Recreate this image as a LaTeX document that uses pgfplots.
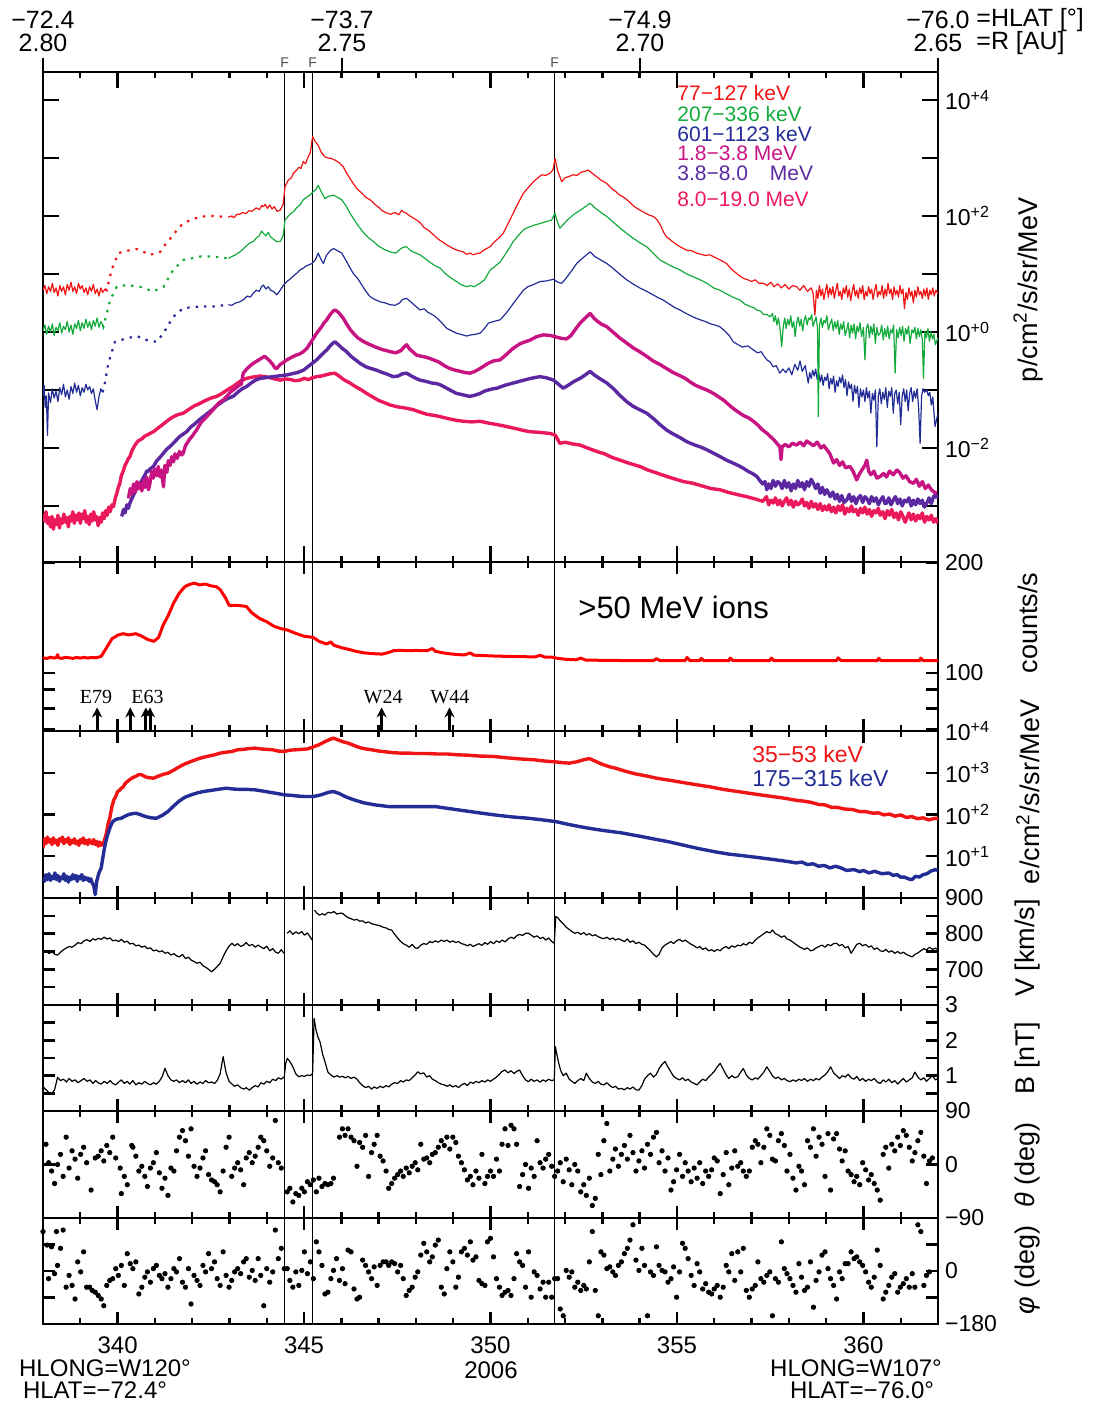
\documentclass[border=0pt]{standalone}
\usepackage{fontspec}
\setmainfont{Liberation Sans}
\newfontfamily\serifont{Liberation Serif}
\usepackage{pgfplots}
\pgfplotsset{compat=1.18}
\usetikzlibrary{arrows.meta}
\definecolor{cred}{RGB}{240,20,20}
\definecolor{cgreen}{RGB}{20,170,60}
\definecolor{cblue}{RGB}{35,45,150}
\definecolor{cmag}{RGB}{200,20,130}
\definecolor{cpur}{RGB}{90,40,160}
\definecolor{cpink}{RGB}{235,25,90}
\pgfplotsset{
  panel/.style={
    at={(21.5pt,#1)}, anchor=south west, width=447.5pt, scale only axis,
    xmin=338, xmax=362,
    xtick={340,345,350,355,360}, minor xtick={338,...,362},
    xticklabels={},
    tick align=inside, tick pos=both,
    major tick length=6pt, minor tick length=3pt,
    axis line style={line width=1.4pt},
    every tick/.style={black, line width=1.2pt},
    yticklabel pos=right,
    ticklabel style={font=\fontsize{11.5}{12}\selectfont},
    /pgf/number format/assume math mode=true,
    extra x ticks={344.48,345.23,351.72},
    extra x tick labels={},
    extra x tick style={grid=major, major tick length=0pt, major grid style={black, line width=0.5pt}},
  },
  thinl/.style={line width=0.6pt, line join=round},
  thickl/.style={line width=1.7pt, line join=round},
  dotl/.style={line width=1.1pt, dash pattern=on 1.2pt off 3pt},
}
\begin{document}
\begin{tikzpicture}
\useasboundingbox (0pt,0pt) rectangle (548.5pt,701.5pt);

% ---------------- Panel 1: protons ----------------
\begin{axis}[panel={420.5pt}, height=245pt, ymin=-3.966, ymax=4.483,
  major tick length=8pt,
  ytick={-3,-2,-1,0,1,2,3,4},
  yticklabels={,10\textsuperscript{−2},,10\textsuperscript{+0},,10\textsuperscript{+2},,10\textsuperscript{+4}}]
% 8.0-19.0 MeV
\addplot[thickl, cpink] coordinates {(338.00,-3.14)(338.04,-3.26)(338.08,-3.10)(338.12,-3.30)(338.16,-3.20)(338.20,-3.36)(338.24,-3.18)(338.28,-3.40)(338.32,-3.24)(338.36,-3.32)(338.40,-3.16)(338.44,-3.38)(338.48,-3.22)(338.52,-3.30)(338.56,-3.14)(338.60,-3.28)(338.64,-3.20)(338.68,-3.36)(338.72,-3.18)(338.76,-3.26)(338.80,-3.10)(338.84,-3.30)(338.88,-3.16)(338.92,-3.24)(338.96,-3.12)(339.00,-3.30)(339.04,-3.14)(339.08,-3.22)(339.12,-3.08)(339.16,-3.28)(339.20,-3.18)(339.24,-3.32)(339.28,-3.14)(339.32,-3.26)(339.36,-3.10)(339.40,-3.24)(339.44,-3.18)(339.48,-3.34)(339.52,-3.20)(339.56,-3.28)(339.60,-3.12)(339.64,-3.22)(339.68,-3.08)(339.72,-3.16)(339.76,-3.02)(339.80,-3.10)(339.85,-2.98)(339.89,-3.01)(339.94,-2.86)(339.98,-2.78)(340.02,-2.68)(340.06,-2.61)(340.10,-2.48)(340.15,-2.40)(340.20,-2.30)(340.25,-2.24)(340.29,-2.18)(340.33,-2.15)(340.38,-2.06)(340.44,-1.98)(340.50,-1.92)(340.55,-1.88)(340.60,-1.86)(340.66,-1.84)(340.72,-1.80)(340.78,-1.78)(340.84,-1.76)(340.90,-1.74)(340.96,-1.72)(341.04,-1.68)(341.12,-1.64)(341.20,-1.60)(341.26,-1.57)(341.32,-1.54)(341.40,-1.50)(341.50,-1.46)(341.60,-1.43)(341.76,-1.40)(341.90,-1.34)(342.04,-1.28)(342.21,-1.23)(342.36,-1.18)(342.50,-1.14)(342.66,-1.11)(342.80,-1.06)(342.96,-0.99)(343.10,-0.94)(343.22,-0.88)(343.34,-0.83)(343.46,-0.80)(343.60,-0.78)(343.72,-0.77)(343.82,-0.76)(343.96,-0.77)(344.10,-0.79)(344.22,-0.81)(344.36,-0.83)(344.50,-0.81)(344.64,-0.82)(344.76,-0.84)(344.89,-0.83)(345.00,-0.80)(345.12,-0.82)(345.22,-0.79)(345.34,-0.77)(345.46,-0.76)(345.58,-0.74)(345.70,-0.72)(345.83,-0.71)(345.94,-0.76)(346.06,-0.82)(346.23,-0.88)(346.40,-0.95)(346.54,-1.00)(346.68,-1.06)(346.84,-1.12)(347.00,-1.18)(347.16,-1.22)(347.31,-1.26)(347.50,-1.29)(347.70,-1.31)(347.93,-1.34)(348.10,-1.38)(348.30,-1.42)(348.50,-1.44)(348.65,-1.46)(348.84,-1.49)(349.05,-1.52)(349.27,-1.54)(349.50,-1.55)(349.72,-1.54)(349.94,-1.57)(350.20,-1.60)(350.43,-1.63)(350.70,-1.67)(350.90,-1.70)(351.06,-1.72)(351.30,-1.73)(351.60,-1.75)(351.74,-1.78)(351.86,-1.92)(352.00,-1.90)(352.20,-1.93)(352.40,-1.95)(352.60,-2.00)(352.85,-2.06)(353.05,-2.10)(353.25,-2.16)(353.47,-2.21)(353.70,-2.26)(354.01,-2.32)(354.22,-2.38)(354.45,-2.43)(354.72,-2.49)(354.92,-2.53)(355.18,-2.58)(355.44,-2.61)(355.70,-2.66)(355.92,-2.70)(356.15,-2.72)(356.40,-2.77)(356.60,-2.80)(356.87,-2.84)(357.10,-2.88)(357.30,-2.92)(357.40,-2.84)(357.46,-2.98)(357.52,-2.90)(357.58,-2.95)(357.64,-2.86)(357.70,-2.98)(357.76,-2.90)(357.82,-3.00)(357.88,-2.92)(357.94,-2.86)(358.00,-2.98)(358.06,-2.90)(358.12,-3.02)(358.18,-2.92)(358.24,-2.98)(358.30,-2.95)(358.36,-2.88)(358.42,-3.00)(358.48,-2.94)(358.54,-3.04)(358.60,-2.92)(358.66,-3.02)(358.72,-2.96)(358.78,-3.06)(358.84,-2.96)(358.90,-3.08)(358.96,-3.00)(359.02,-3.07)(359.08,-2.98)(359.14,-3.10)(359.20,-3.02)(359.26,-3.12)(359.32,-3.00)(359.38,-3.08)(359.44,-2.98)(359.50,-3.14)(359.56,-3.04)(359.62,-3.10)(359.68,-3.00)(359.73,-3.10)(359.80,-3.06)(359.86,-3.16)(359.92,-3.04)(359.98,-3.12)(360.04,-3.02)(360.10,-3.14)(360.16,-3.06)(360.22,-3.18)(360.28,-3.08)(360.34,-3.12)(360.40,-3.04)(360.45,-3.16)(360.52,-3.10)(360.58,-3.22)(360.64,-3.08)(360.70,-3.16)(360.76,-3.06)(360.82,-3.20)(360.88,-3.12)(360.94,-3.24)(361.00,-3.10)(361.06,-3.18)(361.12,-3.28)(361.16,-3.21)(361.22,-3.12)(361.28,-3.24)(361.34,-3.14)(361.40,-3.26)(361.46,-3.16)(361.52,-3.22)(361.58,-3.12)(361.64,-3.28)(361.70,-3.18)(361.76,-3.24)(361.82,-3.16)(361.88,-3.28)(361.94,-3.22)(362.00,-3.30)};
% 3.8-8.0 MeV
\addplot[thickl, cpur] coordinates {(340.11,-3.18)(340.16,-3.06)(340.20,-3.12)(340.25,-2.98)(340.29,-3.04)(340.33,-2.95)(340.38,-2.88)(340.42,-2.82)(340.47,-2.76)(340.51,-2.70)(340.56,-2.66)(340.60,-2.61)(340.65,-2.56)(340.70,-2.50)(340.74,-2.46)(340.78,-2.40)(340.83,-2.40)(340.87,-2.36)(340.92,-2.34)(340.96,-2.32)(341.05,-2.22)(341.14,-2.16)(341.23,-2.09)(341.32,-2.02)(341.40,-1.98)(341.49,-1.92)(341.58,-1.86)(341.67,-1.80)(341.76,-1.76)(341.85,-1.72)(341.96,-1.64)(342.08,-1.58)(342.18,-1.52)(342.30,-1.46)(342.42,-1.40)(342.54,-1.34)(342.64,-1.28)(342.75,-1.23)(342.86,-1.18)(342.98,-1.14)(343.10,-1.11)(343.22,-1.04)(343.34,-0.98)(343.46,-0.94)(343.58,-0.88)(343.70,-0.83)(343.82,-0.80)(343.94,-0.79)(344.06,-0.78)(344.18,-0.77)(344.30,-0.76)(344.42,-0.75)(344.54,-0.74)(344.68,-0.72)(344.82,-0.70)(344.98,-0.66)(345.10,-0.60)(345.22,-0.54)(345.34,-0.48)(345.46,-0.40)(345.54,-0.35)(345.61,-0.31)(345.70,-0.24)(345.78,-0.19)(345.83,-0.17)(345.92,-0.22)(346.02,-0.28)(346.14,-0.34)(346.26,-0.42)(346.38,-0.48)(346.50,-0.54)(346.66,-0.60)(346.80,-0.63)(346.95,-0.66)(347.10,-0.70)(347.24,-0.73)(347.39,-0.77)(347.52,-0.76)(347.64,-0.72)(347.75,-0.71)(347.88,-0.76)(348.00,-0.80)(348.11,-0.83)(348.26,-0.85)(348.42,-0.88)(348.56,-0.89)(348.65,-0.91)(348.80,-0.96)(348.94,-1.01)(349.09,-1.06)(349.24,-1.08)(349.36,-1.10)(349.45,-1.11)(349.58,-1.09)(349.72,-1.06)(349.84,-1.02)(349.94,-1.00)(350.06,-0.98)(350.17,-0.97)(350.38,-0.92)(350.61,-0.88)(350.84,-0.84)(351.08,-0.80)(351.33,-0.77)(351.50,-0.79)(351.69,-0.83)(351.82,-0.90)(351.95,-0.97)(352.08,-0.92)(352.22,-0.86)(352.40,-0.80)(352.54,-0.74)(352.67,-0.68)(352.78,-0.74)(352.92,-0.80)(353.12,-0.88)(353.30,-0.98)(353.48,-1.10)(353.65,-1.20)(353.82,-1.28)(354.00,-1.34)(354.19,-1.40)(354.38,-1.50)(354.55,-1.60)(354.72,-1.69)(354.90,-1.76)(355.08,-1.82)(355.26,-1.89)(355.44,-1.94)(355.62,-1.98)(355.80,-2.03)(355.98,-2.09)(356.16,-2.15)(356.33,-2.21)(356.50,-2.26)(356.64,-2.30)(356.78,-2.35)(356.90,-2.40)(357.02,-2.44)(357.14,-2.49)(357.22,-2.56)(357.30,-2.62)(357.36,-2.58)(357.41,-2.72)(357.46,-2.62)(357.52,-2.70)(357.58,-2.56)(357.64,-2.66)(357.70,-2.58)(357.76,-2.61)(357.82,-2.70)(357.88,-2.56)(357.94,-2.68)(358.00,-2.60)(358.06,-2.74)(358.12,-2.62)(358.18,-2.70)(358.24,-2.56)(358.30,-2.67)(358.36,-2.60)(358.42,-2.72)(358.48,-2.58)(358.54,-2.66)(358.60,-2.54)(358.66,-2.61)(358.72,-2.70)(358.78,-2.62)(358.84,-2.78)(358.90,-2.68)(358.96,-2.80)(359.02,-2.72)(359.11,-2.84)(359.18,-2.76)(359.24,-2.88)(359.30,-2.80)(359.36,-2.92)(359.42,-2.82)(359.48,-2.94)(359.55,-2.90)(359.62,-2.80)(359.68,-2.92)(359.74,-2.84)(359.80,-2.96)(359.86,-2.86)(359.92,-2.82)(359.98,-2.94)(360.04,-2.84)(360.09,-2.87)(360.16,-2.96)(360.22,-2.84)(360.28,-2.92)(360.34,-2.86)(360.40,-2.98)(360.46,-2.90)(360.52,-2.84)(360.58,-2.96)(360.62,-2.95)(360.68,-2.86)(360.74,-2.98)(360.80,-2.90)(360.86,-2.84)(360.92,-2.96)(360.98,-2.88)(361.04,-3.00)(361.10,-2.90)(361.16,-2.93)(361.22,-2.86)(361.28,-3.00)(361.34,-2.90)(361.40,-2.98)(361.46,-2.88)(361.52,-2.96)(361.58,-2.90)(361.64,-3.02)(361.70,-2.95)(361.76,-2.86)(361.82,-2.96)(361.88,-2.84)(361.94,-2.80)(361.97,-2.87)};
% 1.8-3.8 MeV
\addplot[thickl, cmag] coordinates {(340.29,-2.87)(340.34,-2.70)(340.38,-2.80)(340.43,-2.62)(340.47,-2.76)(340.52,-2.58)(340.56,-2.70)(340.60,-2.61)(340.65,-2.74)(340.70,-2.56)(340.74,-2.68)(340.78,-2.50)(340.83,-2.72)(340.87,-2.60)(340.92,-2.40)(340.96,-2.52)(341.00,-2.36)(341.05,-2.48)(341.09,-2.32)(341.14,-2.50)(341.18,-2.38)(341.23,-2.67)(341.27,-2.30)(341.32,-2.42)(341.36,-2.22)(341.41,-2.30)(341.45,-2.15)(341.50,-2.24)(341.54,-2.10)(341.60,-2.18)(341.66,-2.06)(341.72,-2.12)(341.76,-2.09)(341.82,-1.96)(341.88,-1.90)(341.94,-1.84)(342.00,-1.80)(342.06,-1.74)(342.12,-1.69)(342.18,-1.62)(342.24,-1.56)(342.30,-1.52)(342.36,-1.48)(342.42,-1.44)(342.48,-1.40)(342.56,-1.34)(342.64,-1.28)(342.72,-1.22)(342.84,-1.17)(342.94,-1.10)(343.02,-1.04)(343.10,-1.00)(343.18,-0.96)(343.26,-0.92)(343.32,-0.90)(343.37,-0.71)(343.46,-0.64)(343.56,-0.58)(343.64,-0.54)(343.74,-0.50)(343.84,-0.46)(343.94,-0.42)(344.00,-0.45)(344.08,-0.50)(344.16,-0.56)(344.22,-0.62)(344.27,-0.63)(344.36,-0.56)(344.46,-0.52)(344.54,-0.48)(344.66,-0.44)(344.78,-0.40)(344.88,-0.38)(344.98,-0.34)(345.08,-0.28)(345.18,-0.18)(345.26,-0.10)(345.34,-0.02)(345.46,0.08)(345.54,0.16)(345.61,0.21)(345.70,0.30)(345.78,0.36)(345.83,0.38)(345.92,0.34)(346.05,0.24)(346.14,0.14)(346.24,0.04)(346.32,-0.02)(346.44,-0.10)(346.58,-0.16)(346.77,-0.22)(346.92,-0.26)(347.08,-0.30)(347.20,-0.32)(347.31,-0.34)(347.46,-0.36)(347.60,-0.32)(347.68,-0.26)(347.75,-0.22)(347.84,-0.30)(348.02,-0.40)(348.16,-0.42)(348.30,-0.44)(348.47,-0.48)(348.62,-0.52)(348.76,-0.58)(348.91,-0.63)(349.06,-0.66)(349.20,-0.68)(349.32,-0.70)(349.45,-0.71)(349.58,-0.68)(349.72,-0.63)(349.84,-0.58)(349.94,-0.54)(350.08,-0.50)(350.26,-0.48)(350.44,-0.38)(350.61,-0.28)(350.80,-0.20)(351.06,-0.14)(351.24,-0.08)(351.42,-0.05)(351.60,-0.06)(351.78,-0.09)(351.90,-0.11)(352.04,-0.12)(352.16,-0.06)(352.28,0.05)(352.40,0.15)(352.54,0.24)(352.67,0.32)(352.80,0.22)(352.96,0.14)(353.12,0.09)(353.28,0.00)(353.46,-0.10)(353.65,-0.19)(353.84,-0.28)(354.00,-0.34)(354.19,-0.42)(354.36,-0.50)(354.54,-0.56)(354.72,-0.63)(354.90,-0.70)(355.10,-0.76)(355.22,-0.80)(355.35,-0.86)(355.50,-0.92)(355.64,-0.96)(355.80,-1.00)(355.98,-1.06)(356.12,-1.12)(356.26,-1.18)(356.40,-1.26)(356.51,-1.32)(356.64,-1.38)(356.78,-1.44)(356.92,-1.48)(357.05,-1.54)(357.16,-1.60)(357.28,-1.68)(357.40,-1.74)(357.50,-1.80)(357.60,-1.86)(357.68,-1.92)(357.76,-1.98)(357.79,-2.20)(357.82,-1.98)(357.90,-1.94)(358.00,-1.98)(358.10,-1.92)(358.21,-1.95)(358.30,-1.90)(358.40,-1.96)(358.48,-1.88)(358.57,-1.92)(358.66,-1.96)(358.76,-1.90)(358.86,-2.00)(358.94,-1.96)(359.02,-2.03)(359.10,-2.10)(359.20,-2.26)(359.28,-2.20)(359.36,-2.30)(359.44,-2.24)(359.52,-2.34)(359.64,-2.32)(359.72,-2.40)(359.82,-2.55)(359.90,-2.44)(359.98,-2.36)(360.04,-2.30)(360.09,-2.21)(360.14,-2.40)(360.20,-2.46)(360.28,-2.40)(360.36,-2.52)(360.45,-2.49)(360.54,-2.44)(360.62,-2.50)(360.70,-2.40)(360.80,-2.46)(360.90,-2.38)(360.98,-2.43)(361.06,-2.52)(361.14,-2.48)(361.24,-2.58)(361.34,-2.61)(361.42,-2.54)(361.50,-2.66)(361.58,-2.58)(361.66,-2.70)(361.74,-2.64)(361.82,-2.72)(361.90,-2.76)(361.97,-2.78)};
% 601-1123 keV
\addplot[thinl, cblue] coordinates {(338.00,-1.10)(338.03,-0.92)(338.06,-1.30)(338.09,-1.10)(338.12,-1.78)(338.15,-1.05)(338.20,-1.22)(338.25,-0.98)(338.30,-1.14)(338.35,-1.02)(338.40,-1.20)(338.45,-0.96)(338.50,-1.08)(338.55,-0.90)(338.60,-1.12)(338.65,-1.00)(338.70,-1.16)(338.75,-0.94)(338.80,-1.06)(338.85,-0.88)(338.90,-1.04)(338.95,-0.92)(339.00,-1.10)(339.05,-0.96)(339.10,-1.04)(339.15,-0.90)(339.20,-1.00)(339.25,-0.94)(339.30,-1.06)(339.35,-0.98)(339.40,-1.18)(339.45,-1.34)(339.50,-1.12)(339.55,-0.98)(339.60,-1.04)};
\addplot[dotl, cblue] coordinates {(339.60,-1.04)(339.66,-0.88)(339.75,-0.54)(339.93,-0.17)(340.24,-0.11)(340.51,-0.07)(340.78,-0.14)(341.05,-0.17)(341.23,-0.02)(341.49,0.26)(341.76,0.41)(342.21,0.44)(342.57,0.44)(342.97,0.47)};
\addplot[thinl, cblue] coordinates {(342.97,0.47)(343.06,0.46)(343.16,0.50)(343.28,0.52)(343.38,0.56)(343.48,0.62)(343.56,0.60)(343.64,0.67)(343.72,0.72)(343.80,0.70)(343.86,0.78)(343.91,0.81)(343.98,0.74)(344.04,0.78)(344.10,0.72)(344.18,0.70)(344.27,0.64)(344.36,0.72)(344.44,0.80)(344.54,0.87)(344.64,0.92)(344.74,0.98)(344.82,1.02)(344.89,1.07)(344.98,1.10)(345.06,1.14)(345.14,1.16)(345.21,1.18)(345.30,1.24)(345.38,1.36)(345.45,1.26)(345.52,1.18)(345.60,1.32)(345.70,1.40)(345.79,1.44)(345.90,1.40)(346.01,1.36)(346.12,1.24)(346.22,1.12)(346.32,1.01)(346.44,0.92)(346.56,0.80)(346.66,0.70)(346.77,0.61)(346.90,0.56)(347.04,0.52)(347.18,0.50)(347.31,0.47)(347.44,0.46)(347.56,0.50)(347.64,0.56)(347.75,0.58)(347.86,0.52)(348.00,0.44)(348.11,0.38)(348.22,0.40)(348.32,0.34)(348.47,0.29)(348.60,0.22)(348.72,0.14)(348.83,0.06)(348.96,0.02)(349.08,-0.02)(349.20,-0.04)(349.36,-0.07)(349.48,-0.05)(349.60,-0.04)(349.72,-0.02)(349.84,0.06)(349.94,0.15)(350.08,0.18)(350.26,0.21)(350.44,0.34)(350.61,0.49)(350.74,0.60)(350.88,0.72)(351.00,0.78)(351.16,0.82)(351.33,0.87)(351.50,0.88)(351.69,0.91)(351.80,0.86)(351.91,0.84)(352.02,0.92)(352.16,1.04)(352.31,1.18)(352.48,1.28)(352.67,1.38)(352.80,1.30)(352.96,1.24)(353.12,1.18)(353.28,1.10)(353.46,1.00)(353.65,0.90)(353.84,0.82)(354.00,0.76)(354.19,0.70)(354.36,0.64)(354.50,0.59)(354.63,0.55)(354.80,0.48)(354.94,0.42)(355.08,0.38)(355.24,0.32)(355.40,0.27)(355.50,0.24)(355.62,0.21)(355.76,0.18)(355.90,0.14)(356.02,0.12)(356.15,0.09)(356.28,0.02)(356.40,-0.06)(356.51,-0.17)(356.64,-0.22)(356.76,-0.26)(356.90,-0.24)(357.05,-0.31)(357.16,-0.36)(357.26,-0.34)(357.34,-0.42)(357.41,-0.48)(357.50,-0.52)(357.58,-0.60)(357.66,-0.58)(357.76,-0.71)(357.84,-0.64)(357.92,-0.70)(358.00,-0.62)(358.08,-0.74)(358.16,-0.56)(358.24,-0.66)(358.30,-0.50)(358.36,-0.68)(358.44,-0.58)(358.52,-0.88)(358.56,-0.70)(358.60,-0.80)(358.64,-0.66)(358.68,-0.76)(358.72,-0.64)(358.76,-0.82)(358.80,-0.70)(358.84,-0.86)(358.88,-0.74)(358.92,-0.92)(358.96,-0.78)(359.00,-0.84)(359.04,-0.72)(359.08,-0.98)(359.12,-0.80)(359.16,-0.90)(359.20,-0.76)(359.24,-1.04)(359.28,-0.84)(359.32,-0.94)(359.36,-0.78)(359.40,-0.88)(359.44,-0.74)(359.48,-0.96)(359.52,-0.82)(359.56,-1.10)(359.60,-0.86)(359.64,-0.98)(359.68,-0.90)(359.72,-1.20)(359.76,-0.92)(359.80,-1.06)(359.84,-0.94)(359.88,-1.30)(359.92,-0.98)(359.96,-1.12)(360.00,-1.00)(360.04,-1.20)(360.08,-0.96)(360.12,-1.14)(360.16,-1.02)(360.20,-1.40)(360.24,-1.06)(360.28,-1.18)(360.32,-1.00)(360.36,-1.98)(360.40,-1.10)(360.44,-0.98)(360.48,-1.24)(360.52,-1.04)(360.56,-1.16)(360.60,-0.96)(360.64,-1.30)(360.68,-1.02)(360.72,-1.11)(360.76,-0.96)(360.80,-1.40)(360.84,-1.06)(360.88,-1.00)(360.92,-1.24)(360.96,-1.04)(361.00,-1.60)(361.04,-1.10)(361.08,-0.98)(361.12,-1.20)(361.16,-1.00)(361.20,-1.36)(361.24,-1.06)(361.28,-0.96)(361.32,-1.20)(361.36,-1.02)(361.40,-1.14)(361.44,-0.98)(361.48,-1.30)(361.52,-1.92)(361.56,-1.10)(361.60,-0.98)(361.64,-1.04)(361.70,-1.00)(361.74,-1.10)(361.78,-1.04)(361.82,-1.26)(361.86,-1.12)(361.92,-1.63)(362.00,-1.40)};
% 207-336 keV
\addplot[thinl, cgreen] coordinates {(338.00,0.02)(338.05,0.12)(338.10,-0.04)(338.15,0.10)(338.20,0.00)(338.25,0.14)(338.30,-0.06)(338.35,0.08)(338.40,0.02)(338.45,0.16)(338.50,-0.02)(338.55,0.10)(338.60,0.04)(338.65,0.18)(338.70,0.00)(338.75,0.12)(338.80,-0.04)(338.85,0.14)(338.90,0.06)(338.95,0.20)(339.00,0.02)(339.05,0.16)(339.10,0.06)(339.15,0.22)(339.20,0.08)(339.25,0.18)(339.30,0.04)(339.35,0.20)(339.40,0.10)(339.45,0.24)(339.50,0.08)(339.55,0.18)(339.60,0.12)};
\addplot[dotl, cgreen] coordinates {(339.60,0.12)(339.62,0.09)(339.80,0.55)(339.98,0.78)(340.24,0.81)(340.60,0.78)(340.96,0.70)(341.23,0.78)(341.49,1.07)(341.76,1.24)(342.21,1.30)(342.57,1.30)(342.97,1.27)};
\addplot[thinl, cgreen] coordinates {(342.97,1.27)(343.06,1.30)(343.16,1.33)(343.28,1.38)(343.38,1.44)(343.48,1.50)(343.56,1.54)(343.64,1.56)(343.72,1.62)(343.80,1.66)(343.86,1.74)(343.91,1.70)(343.98,1.66)(344.04,1.72)(344.10,1.64)(344.18,1.60)(344.26,1.56)(344.36,1.56)(344.44,1.66)(344.49,1.93)(344.58,2.00)(344.66,2.05)(344.71,2.07)(344.80,2.14)(344.90,2.20)(344.98,2.28)(345.06,2.32)(345.16,2.36)(345.25,2.42)(345.32,2.46)(345.38,2.53)(345.46,2.42)(345.56,2.30)(345.66,2.34)(345.79,2.36)(345.90,2.32)(346.01,2.28)(346.12,2.18)(346.24,2.04)(346.41,1.87)(346.56,1.74)(346.70,1.64)(346.86,1.56)(347.00,1.48)(347.16,1.42)(347.31,1.38)(347.46,1.36)(347.60,1.44)(347.66,1.46)(347.75,1.47)(347.86,1.40)(348.00,1.36)(348.11,1.33)(348.26,1.26)(348.40,1.19)(348.52,1.14)(348.65,1.10)(348.80,1.00)(348.94,0.93)(349.09,0.87)(349.20,0.82)(349.36,0.78)(349.46,0.80)(349.56,0.78)(349.72,0.84)(349.84,0.90)(349.99,1.07)(350.10,1.12)(350.26,1.21)(350.44,1.38)(350.61,1.56)(350.74,1.66)(350.88,1.76)(351.00,1.80)(351.16,1.84)(351.33,1.87)(351.48,1.90)(351.64,1.93)(351.73,2.05)(351.79,1.90)(351.86,1.79)(351.96,1.86)(352.08,1.94)(352.22,2.02)(352.36,2.08)(352.50,2.14)(352.67,2.22)(352.80,2.14)(352.96,2.06)(353.12,1.99)(353.28,1.90)(353.46,1.80)(353.65,1.70)(353.82,1.62)(354.00,1.54)(354.19,1.47)(354.36,1.36)(354.55,1.24)(354.72,1.18)(354.90,1.12)(355.08,1.07)(355.26,1.00)(355.44,0.95)(355.62,0.90)(355.80,0.84)(355.98,0.76)(356.15,0.72)(356.32,0.66)(356.50,0.60)(356.69,0.55)(356.82,0.48)(356.96,0.44)(357.06,0.42)(357.14,0.38)(357.24,0.36)(357.32,0.30)(357.42,0.30)(357.50,0.26)(357.56,0.32)(357.60,0.18)(357.64,0.28)(357.68,0.12)(357.72,0.24)(357.76,0.08)(357.81,-0.25)(357.85,0.10)(357.89,0.24)(357.93,0.06)(357.97,0.22)(358.01,0.12)(358.05,0.28)(358.09,0.08)(358.13,0.18)(358.17,-0.08)(358.21,0.15)(358.25,0.26)(358.29,0.10)(358.33,0.22)(358.37,0.02)(358.41,0.20)(358.45,0.28)(358.49,0.12)(358.53,0.24)(358.57,0.21)(358.61,0.30)(358.65,0.10)(358.69,0.18)(358.73,0.26)(358.77,0.06)(358.79,-1.46)(358.82,0.10)(358.86,0.24)(358.90,0.08)(358.94,0.20)(358.98,0.16)(359.02,0.28)(359.06,0.04)(359.11,0.15)(359.15,0.22)(359.19,0.02)(359.23,0.18)(359.27,0.06)(359.31,0.20)(359.35,-0.04)(359.39,0.14)(359.43,0.04)(359.47,0.18)(359.51,-0.06)(359.55,0.03)(359.59,0.16)(359.63,-0.10)(359.67,0.12)(359.71,-0.02)(359.75,0.14)(359.79,-0.12)(359.83,0.10)(359.87,0.00)(359.91,0.16)(359.95,-0.08)(360.00,0.08)(360.04,-0.48)(360.08,0.06)(360.12,0.14)(360.16,-0.10)(360.20,0.10)(360.24,-0.04)(360.28,0.14)(360.32,-0.20)(360.36,0.08)(360.40,-0.06)(360.45,-0.02)(360.49,0.12)(360.53,-0.14)(360.57,0.06)(360.61,-0.08)(360.65,0.10)(360.69,-0.12)(360.73,0.04)(360.77,-0.02)(360.81,0.12)(360.85,-0.71)(360.89,0.04)(360.93,-0.10)(360.97,0.08)(361.01,-0.06)(361.05,0.10)(361.09,-0.16)(361.13,0.06)(361.17,-0.04)(361.21,0.10)(361.25,-0.20)(361.30,0.04)(361.34,-0.02)(361.38,0.08)(361.42,-0.12)(361.46,0.06)(361.50,-0.08)(361.54,0.04)(361.58,-0.14)(361.61,-0.80)(361.65,0.02)(361.69,-0.10)(361.73,0.06)(361.77,-0.16)(361.81,0.00)(361.85,-0.12)(361.89,-0.04)(361.93,-0.22)(362.00,-0.10)};
% 77-127 keV
\addplot[thinl, cred] coordinates {(338.00,0.72)(338.05,0.80)(338.10,0.66)(338.15,0.78)(338.20,0.70)(338.25,0.84)(338.30,0.68)(338.35,0.76)(338.40,0.62)(338.45,0.80)(338.50,0.70)(338.55,0.78)(338.60,0.64)(338.65,0.82)(338.70,0.72)(338.75,0.86)(338.80,0.70)(338.85,0.78)(338.90,0.66)(338.95,0.84)(339.00,0.74)(339.05,0.80)(339.10,0.68)(339.15,0.76)(339.20,0.64)(339.25,0.78)(339.30,0.70)(339.35,0.82)(339.40,0.66)(339.45,0.74)(339.50,0.62)(339.55,0.76)(339.60,0.68)(339.66,0.74)};
\addplot[dotl, cred] coordinates {(339.66,0.74)(339.71,0.72)(339.84,1.07)(340.02,1.36)(340.25,1.40)(340.51,1.43)(340.70,1.38)(340.87,1.33)(341.14,1.38)(341.27,1.50)(341.45,1.64)(341.67,1.82)(341.85,1.90)(342.21,1.99)(342.57,2.00)(342.97,1.98)};
\addplot[thinl, cred] coordinates {(342.97,1.98)(343.05,2.00)(343.12,1.97)(343.20,2.03)(343.28,2.03)(343.36,2.06)(343.44,2.04)(343.52,2.09)(343.60,2.08)(343.64,2.10)(343.72,2.14)(343.80,2.11)(343.87,2.18)(343.91,2.16)(343.96,2.20)(344.02,2.13)(344.08,2.19)(344.14,2.12)(344.20,2.16)(344.28,2.08)(344.36,2.10)(344.44,2.20)(344.49,2.51)(344.58,2.62)(344.66,2.66)(344.72,2.74)(344.80,2.79)(344.86,2.84)(344.92,2.82)(344.98,2.94)(345.04,2.90)(345.11,3.02)(345.17,3.10)(345.23,3.37)(345.30,3.28)(345.38,3.22)(345.46,3.10)(345.56,3.02)(345.64,3.00)(345.74,2.99)(345.84,2.96)(345.96,2.91)(346.05,2.85)(346.14,2.74)(346.22,2.66)(346.32,2.56)(346.42,2.47)(346.54,2.40)(346.66,2.32)(346.77,2.28)(346.90,2.20)(347.02,2.14)(347.12,2.08)(347.22,2.05)(347.32,2.03)(347.44,2.06)(347.54,2.02)(347.62,2.10)(347.66,2.07)(347.74,2.05)(347.84,2.00)(347.94,1.96)(348.02,1.93)(348.12,1.88)(348.22,1.80)(348.30,1.77)(348.38,1.73)(348.50,1.66)(348.60,1.60)(348.72,1.55)(348.83,1.50)(348.94,1.46)(349.06,1.42)(349.16,1.40)(349.27,1.38)(349.36,1.34)(349.46,1.36)(349.54,1.33)(349.62,1.35)(349.72,1.36)(349.84,1.42)(349.99,1.47)(350.10,1.55)(350.22,1.62)(350.34,1.70)(350.48,1.88)(350.61,2.05)(350.74,2.22)(350.88,2.39)(351.00,2.48)(351.15,2.59)(351.26,2.65)(351.37,2.71)(351.48,2.70)(351.60,2.74)(351.68,2.80)(351.73,2.99)(351.80,2.78)(351.91,2.59)(352.00,2.66)(352.10,2.68)(352.22,2.71)(352.32,2.70)(352.42,2.75)(352.52,2.77)(352.62,2.79)(352.72,2.74)(352.84,2.68)(352.96,2.62)(353.12,2.56)(353.24,2.48)(353.36,2.42)(353.46,2.36)(353.56,2.33)(353.66,2.28)(353.76,2.22)(353.86,2.16)(354.01,2.10)(354.12,2.06)(354.24,2.02)(354.37,1.99)(354.46,1.94)(354.56,1.84)(354.64,1.72)(354.72,1.64)(354.84,1.58)(354.96,1.52)(355.08,1.47)(355.20,1.43)(355.26,1.41)(355.40,1.40)(355.52,1.36)(355.64,1.34)(355.76,1.32)(355.88,1.33)(355.98,1.30)(356.10,1.26)(356.22,1.22)(356.33,1.18)(356.44,1.10)(356.52,1.05)(356.60,1.01)(356.70,0.96)(356.80,0.92)(356.90,0.90)(357.00,0.87)(357.10,0.90)(357.20,0.84)(357.32,0.84)(357.42,0.80)(357.52,0.86)(357.60,0.78)(357.70,0.83)(357.80,0.76)(357.90,0.82)(358.00,0.74)(358.10,0.80)(358.21,0.78)(358.30,0.72)(358.40,0.80)(358.50,0.70)(358.60,0.76)(358.65,0.67)(358.70,0.29)(358.74,0.72)(358.78,0.58)(358.82,0.80)(358.86,0.62)(358.90,0.74)(358.94,0.56)(358.98,0.70)(359.02,0.82)(359.06,0.60)(359.10,0.76)(359.14,0.64)(359.18,0.78)(359.22,0.58)(359.26,0.72)(359.30,0.84)(359.34,0.62)(359.38,0.70)(359.42,0.56)(359.46,0.76)(359.50,0.66)(359.54,0.80)(359.58,0.60)(359.62,0.74)(359.66,0.54)(359.70,0.70)(359.74,0.82)(359.78,0.62)(359.82,0.72)(359.86,0.58)(359.90,0.76)(359.94,0.66)(359.98,0.80)(360.02,0.56)(360.06,0.70)(360.10,0.62)(360.14,0.78)(360.18,0.66)(360.22,0.74)(360.26,0.56)(360.30,0.72)(360.34,0.82)(360.38,0.60)(360.42,0.70)(360.46,0.64)(360.50,0.80)(360.54,0.58)(360.58,0.74)(360.62,0.62)(360.66,0.84)(360.70,0.66)(360.74,0.74)(360.78,0.56)(360.82,0.78)(360.86,0.64)(360.90,0.72)(360.94,0.60)(360.98,0.80)(361.02,0.66)(361.06,0.74)(361.10,0.40)(361.14,0.68)(361.18,0.56)(361.22,0.76)(361.26,0.62)(361.30,0.70)(361.34,0.50)(361.38,0.72)(361.42,0.60)(361.46,0.78)(361.50,0.64)(361.54,0.70)(361.58,0.58)(361.62,0.74)(361.66,0.62)(361.70,0.76)(361.74,0.56)(361.78,0.72)(361.82,0.64)(361.86,0.76)(361.90,0.62)(361.94,0.72)(362.00,0.66)};
\end{axis}

% ---------------- Panel 2: >50 MeV ions ----------------
\begin{axis}[panel={336pt}, height=84.5pt, ymode=log, ymin=69.4, ymax=201,
  ytick={70,80,90,100,200}, yticklabels={,,,100,200}]
\addplot[line width=1.5pt, red, line join=round] coordinates {(338.00,110)(338.10,109.5)(338.20,110.4)(338.30,109.8)(338.36,110.2)(338.39,112.2)(338.42,110)(338.50,109.6)(338.60,110.3)(338.70,110)(338.80,109.6)(338.90,110.2)(339.00,109.8)(339.10,110.3)(339.20,109.8)(339.30,110.2)(339.40,110)(339.50,110.5)(339.56,111)(339.70,117)(339.85,124)(340.02,127)(340.15,128)(340.30,127)(340.49,128)(340.65,126)(340.80,123.5)(340.97,122)(341.10,125)(341.22,135)(341.35,143)(341.50,155)(341.65,165)(341.80,172)(341.90,174)(342.05,176)(342.20,174)(342.35,175)(342.50,173)(342.65,172)(342.75,169)(342.90,160)(342.99,153)(343.20,153)(343.45,152)(343.60,146)(343.80,141)(344.00,138)(344.20,134)(344.40,132)(344.55,131)(344.80,128)(345.00,126)(345.25,125)(345.40,122)(345.60,120)(345.72,121.5)(345.80,119)(346.03,117)(346.20,116)(346.40,114.5)(346.60,113.5)(346.80,113)(346.96,112.7)(347.10,112.6)(347.25,113.6)(347.40,115)(347.59,115.3)(347.80,115)(348.00,115.2)(348.30,115)(348.44,116.6)(348.52,114.6)(348.70,113.6)(348.90,112.8)(349.14,112.2)(349.30,112)(349.46,113.4)(349.55,111.8)(349.80,111.6)(350.00,111.3)(350.40,111)(350.80,110.8)(351.20,110.6)(351.33,111.8)(351.45,110.5)(351.64,110.5)(351.80,109.6)(352.00,109)(352.30,108.6)(352.42,109.8)(352.55,108.4)(352.89,108.3)(353.20,108.2)(353.60,108.1)(354.00,108)(354.37,108.1)(354.45,109.4)(354.55,108)(355.00,108.1)(355.22,108.1)(355.27,110.2)(355.35,108)(355.61,108)(355.65,109.6)(355.72,108)(356.00,108.1)(356.39,108)(356.43,109.8)(356.50,108.1)(357.00,108)(357.49,108.1)(357.53,109.8)(357.60,108)(358.00,108.1)(358.50,108)(359.00,108.1)(359.28,108)(359.32,110)(359.40,108.1)(359.80,108)(360.37,108)(360.41,109.6)(360.48,108)(361.00,108.1)(361.50,108)(361.54,109.8)(361.60,108)(362.00,108)};
\draw[-{Stealth[length=5pt,width=5pt]}, line width=1.5pt] (axis cs:339.45,69.4) -- (axis cs:339.45,80.5);
\draw[-{Stealth[length=5pt,width=5pt]}, line width=1.5pt] (axis cs:340.34,69.4) -- (axis cs:340.34,80.5);
\draw[-{Stealth[length=5pt,width=5pt]}, line width=1.5pt] (axis cs:340.76,69.4) -- (axis cs:340.76,80.5);
\draw[-{Stealth[length=5pt,width=5pt]}, line width=1.5pt] (axis cs:340.87,69.4) -- (axis cs:340.87,80.5);
\draw[-{Stealth[length=5pt,width=5pt]}, line width=1.5pt] (axis cs:347.08,69.4) -- (axis cs:347.08,80.5);
\draw[-{Stealth[length=5pt,width=5pt]}, line width=1.5pt] (axis cs:348.90,69.4) -- (axis cs:348.90,80.5);
\node[font=\serifont\fontsize{10}{10}\selectfont] at (axis cs:339.42,86) {E79};
\node[font=\serifont\fontsize{10}{10}\selectfont] at (axis cs:340.80,86) {E63};
\node[font=\serifont\fontsize{10}{10}\selectfont] at (axis cs:347.12,86) {W24};
\node[font=\serifont\fontsize{10}{10}\selectfont] at (axis cs:348.91,86) {W44};
\end{axis}

% ---------------- Panel 3: electrons ----------------
\begin{axis}[panel={252.5pt}, height=83.5pt, ymin=0, ymax=4,
  ytick={0,1,2,3,4},
  yticklabels={,10\textsuperscript{+1},10\textsuperscript{+2},10\textsuperscript{+3},10\textsuperscript{+4}}]
\addplot[thickl, cred] coordinates {(338.00,1.20)(338.04,1.42)(338.08,1.30)(338.12,1.46)(338.16,1.34)(338.20,1.40)(338.24,1.28)(338.28,1.44)(338.32,1.32)(338.36,1.38)(338.40,1.26)(338.44,1.42)(338.48,1.36)(338.52,1.46)(338.56,1.30)(338.60,1.40)(338.64,1.34)(338.68,1.44)(338.72,1.28)(338.76,1.38)(338.80,1.32)(338.84,1.42)(338.88,1.30)(338.92,1.36)(338.96,1.26)(339.00,1.40)(339.04,1.32)(339.08,1.44)(339.12,1.30)(339.16,1.38)(339.20,1.28)(339.24,1.40)(339.28,1.34)(339.32,1.30)(339.36,1.40)(339.40,1.28)(339.44,1.36)(339.48,1.24)(339.52,1.34)(339.56,1.26)(339.60,1.30)(339.64,1.36)(339.70,1.55)(339.75,1.80)(339.79,1.91)(339.85,2.20)(339.90,2.35)(339.95,2.43)(340.00,2.55)(340.05,2.58)(340.10,2.63)(340.15,2.66)(340.20,2.74)(340.30,2.82)(340.40,2.88)(340.50,2.92)(340.58,2.96)(340.65,2.95)(340.75,2.90)(340.85,2.88)(340.96,2.87)(341.10,2.92)(341.22,2.96)(341.35,2.99)(341.50,3.06)(341.65,3.14)(341.80,3.21)(341.97,3.27)(342.15,3.33)(342.30,3.37)(342.45,3.40)(342.60,3.43)(342.75,3.47)(342.90,3.49)(343.07,3.51)(343.22,3.55)(343.38,3.56)(343.54,3.58)(343.69,3.59)(343.84,3.57)(344.00,3.56)(344.16,3.55)(344.30,3.52)(344.47,3.51)(344.62,3.54)(344.78,3.55)(344.94,3.56)(345.09,3.57)(345.25,3.62)(345.40,3.67)(345.55,3.74)(345.70,3.80)(345.79,3.83)(345.90,3.79)(346.05,3.74)(346.18,3.71)(346.35,3.65)(346.50,3.60)(346.65,3.57)(346.81,3.55)(347.00,3.52)(347.20,3.50)(347.40,3.48)(347.59,3.47)(347.80,3.47)(348.00,3.46)(348.30,3.46)(348.55,3.45)(348.83,3.45)(349.10,3.43)(349.40,3.42)(349.70,3.40)(350.08,3.39)(350.40,3.36)(350.80,3.33)(351.17,3.31)(351.45,3.28)(351.75,3.26)(351.95,3.24)(352.11,3.23)(352.30,3.26)(352.50,3.31)(352.65,3.34)(352.80,3.28)(353.00,3.20)(353.20,3.14)(353.35,3.11)(353.60,3.04)(353.90,2.97)(354.20,2.92)(354.45,2.87)(354.80,2.82)(355.20,2.76)(355.54,2.71)(355.90,2.66)(356.25,2.60)(356.63,2.55)(357.00,2.50)(357.40,2.45)(357.88,2.39)(358.20,2.34)(358.40,2.32)(358.60,2.29)(358.80,2.24)(358.97,2.23)(359.15,2.17)(359.30,2.17)(359.50,2.13)(359.70,2.12)(359.90,2.07)(360.06,2.07)(360.25,2.03)(360.40,2.04)(360.55,1.99)(360.70,2.01)(360.85,1.96)(361.00,1.99)(361.15,1.93)(361.30,1.95)(361.45,1.90)(361.60,1.92)(361.75,1.87)(361.93,1.91)(362.00,1.90)};
\addplot[thickl, cblue] coordinates {(338.00,0.50)(338.04,0.40)(338.08,0.56)(338.12,0.44)(338.16,0.58)(338.20,0.42)(338.24,0.52)(338.28,0.46)(338.32,0.60)(338.36,0.44)(338.40,0.54)(338.44,0.40)(338.48,0.50)(338.52,0.46)(338.56,0.58)(338.60,0.42)(338.64,0.52)(338.68,0.38)(338.72,0.50)(338.76,0.44)(338.80,0.56)(338.84,0.46)(338.88,0.54)(338.92,0.40)(338.96,0.52)(339.00,0.46)(339.04,0.56)(339.08,0.42)(339.12,0.50)(339.16,0.44)(339.20,0.48)(339.24,0.40)(339.28,0.46)(339.32,0.36)(339.36,0.30)(339.40,0.08)(339.44,0.40)(339.50,0.60)(339.56,0.72)(339.62,1.05)(339.67,1.30)(339.71,1.44)(339.77,1.62)(339.83,1.76)(339.87,1.83)(339.95,1.88)(340.02,1.90)(340.10,1.91)(340.20,1.96)(340.30,2.00)(340.40,2.02)(340.49,2.03)(340.60,2.00)(340.75,1.95)(340.90,1.92)(341.04,1.91)(341.20,1.98)(341.35,2.07)(341.50,2.20)(341.65,2.32)(341.80,2.41)(341.97,2.47)(342.15,2.52)(342.30,2.55)(342.45,2.57)(342.60,2.59)(342.75,2.61)(342.91,2.63)(343.10,2.61)(343.30,2.60)(343.50,2.60)(343.69,2.59)(343.90,2.56)(344.10,2.53)(344.30,2.50)(344.47,2.47)(344.65,2.46)(344.85,2.44)(345.05,2.43)(345.25,2.43)(345.45,2.47)(345.65,2.53)(345.79,2.55)(345.95,2.50)(346.10,2.43)(346.34,2.35)(346.60,2.28)(346.90,2.23)(347.27,2.19)(347.60,2.19)(348.00,2.19)(348.52,2.19)(348.90,2.14)(349.30,2.09)(349.77,2.03)(350.20,1.98)(350.60,1.94)(351.02,1.91)(351.40,1.87)(351.75,1.83)(352.10,1.76)(352.57,1.68)(353.00,1.62)(353.51,1.56)(354.00,1.48)(354.40,1.41)(354.76,1.35)(355.20,1.26)(355.60,1.18)(356.00,1.11)(356.40,1.05)(356.80,1.01)(357.25,0.96)(357.60,0.92)(358.00,0.87)(358.20,0.84)(358.35,0.86)(358.50,0.80)(358.65,0.82)(358.80,0.76)(358.95,0.78)(359.10,0.72)(359.25,0.76)(359.40,0.72)(359.55,0.66)(359.75,0.68)(359.90,0.63)(360.00,0.66)(360.15,0.60)(360.30,0.64)(360.50,0.58)(360.68,0.60)(360.80,0.54)(360.90,0.56)(361.00,0.50)(361.10,0.50)(361.20,0.46)(361.30,0.44)(361.40,0.52)(361.50,0.50)(361.60,0.56)(361.70,0.58)(361.80,0.64)(361.93,0.68)(362.00,0.66)};
\end{axis}

% ---------------- Panel 4: V ----------------
\begin{axis}[panel={199pt}, height=53.5pt, ymin=600, ymax=900,
  ytick={650,700,750,800,850,900}, yticklabels={,700,,800,,900}]
\addplot[thinl, black] coordinates {(338.00,748)(338.08,752)(338.16,744)(338.24,750)(338.32,742)(338.39,740)(338.47,748)(338.55,755)(338.63,760)(338.70,764)(338.78,762)(338.86,768)(338.94,775)(339.02,772)(339.10,780)(339.18,783)(339.26,778)(339.34,786)(339.41,782)(339.48,787)(339.56,784)(339.64,790)(339.72,785)(339.80,788)(339.87,780)(339.95,782)(340.03,778)(340.10,784)(340.18,776)(340.26,779)(340.33,771)(340.41,773)(340.49,766)(340.57,768)(340.65,762)(340.73,765)(340.80,758)(340.88,760)(340.96,752)(341.04,754)(341.12,749)(341.20,752)(341.27,745)(341.35,748)(341.43,740)(341.51,744)(341.58,738)(341.66,735)(341.74,742)(341.82,730)(341.90,734)(341.97,726)(342.05,722)(342.13,717)(342.21,720)(342.29,710)(342.36,706)(342.44,700)(342.52,693)(342.60,700)(342.67,708)(342.75,717)(342.83,735)(342.91,752)(342.99,765)(343.07,773)(343.14,766)(343.22,772)(343.30,764)(343.38,768)(343.45,775)(343.53,766)(343.61,770)(343.69,762)(343.77,768)(343.84,763)(343.92,758)(344.00,765)(344.08,752)(344.16,758)(344.24,748)(344.31,745)(344.39,755)(344.46,745)};
\addplot[thinl, black] coordinates {(344.55,801)(344.62,808)(344.70,798)(344.78,805)(344.86,800)(344.94,806)(345.01,796)(345.09,802)(345.17,790)(345.22,782)};
\addplot[thinl, black] coordinates {(345.28,866)(345.34,858)(345.41,852)(345.49,856)(345.56,852)(345.64,860)(345.72,858)(345.80,862)(345.88,855)(345.95,857)(346.03,857)(346.11,850)(346.18,845)(346.26,842)(346.34,838)(346.42,840)(346.49,835)(346.57,836)(346.65,830)(346.73,833)(346.81,828)(346.88,826)(346.96,824)(347.04,822)(347.12,818)(347.20,816)(347.27,812)(347.35,810)(347.43,798)(347.51,788)(347.59,778)(347.66,772)(347.74,768)(347.82,762)(347.90,770)(347.98,760)(348.05,759)(348.13,768)(348.21,772)(348.29,770)(348.37,778)(348.44,775)(348.52,780)(348.60,776)(348.68,782)(348.76,778)(348.83,782)(348.91,776)(348.99,780)(349.07,775)(349.14,778)(349.22,772)(349.30,770)(349.38,766)(349.46,770)(349.53,764)(349.61,768)(349.69,772)(349.77,767)(349.85,775)(349.92,770)(350.00,778)(350.08,772)(350.16,780)(350.24,775)(350.31,782)(350.39,777)(350.47,785)(350.55,790)(350.63,786)(350.70,794)(350.78,798)(350.86,795)(350.94,801)(351.02,801)(351.09,796)(351.17,790)(351.25,794)(351.33,786)(351.41,790)(351.48,782)(351.56,788)(351.64,778)(351.71,773)(351.75,848)(351.80,845)(351.87,836)(351.95,828)(352.03,818)(352.11,812)(352.18,806)(352.26,801)(352.34,804)(352.42,798)(352.50,803)(352.57,796)(352.65,800)(352.73,794)(352.81,797)(352.88,792)(352.96,788)(353.04,786)(353.12,790)(353.20,784)(353.28,788)(353.35,782)(353.43,786)(353.51,782)(353.59,778)(353.67,785)(353.74,776)(353.82,780)(353.90,772)(353.98,776)(354.06,770)(354.13,768)(354.21,760)(354.29,752)(354.37,742)(354.45,735)(354.52,742)(354.60,760)(354.68,768)(354.76,773)(354.84,778)(354.91,772)(354.99,780)(355.07,784)(355.15,778)(355.22,782)(355.30,776)(355.38,770)(355.46,766)(355.54,760)(355.61,764)(355.69,756)(355.77,760)(355.85,752)(355.93,755)(356.00,750)(356.08,756)(356.16,752)(356.24,760)(356.32,764)(356.39,758)(356.47,766)(356.55,762)(356.63,768)(356.71,766)(356.78,772)(356.86,768)(356.94,776)(357.02,772)(357.10,782)(357.17,788)(357.25,794)(357.33,800)(357.41,806)(357.49,802)(357.56,810)(357.64,800)(357.72,796)(357.80,790)(357.88,794)(357.95,785)(358.03,782)(358.11,776)(358.19,770)(358.27,764)(358.34,760)(358.42,756)(358.50,760)(358.58,752)(358.66,754)(358.73,760)(358.81,764)(358.89,768)(358.97,762)(359.05,770)(359.12,766)(359.20,772)(359.28,773)(359.36,766)(359.43,770)(359.51,760)(359.59,764)(359.67,745)(359.75,758)(359.82,770)(359.90,773)(359.98,766)(360.06,770)(360.14,762)(360.21,766)(360.29,756)(360.37,760)(360.45,752)(360.53,750)(360.60,756)(360.68,748)(360.76,752)(360.84,745)(360.92,750)(360.99,744)(361.07,748)(361.15,742)(361.23,738)(361.31,735)(361.38,742)(361.46,746)(361.54,752)(361.62,758)(361.69,754)(361.77,762)(361.85,756)(361.93,759)(362.00,756)};
\end{axis}

% ---------------- Panel 5: B ----------------
\begin{axis}[panel={146pt}, height=53pt, ymin=0, ymax=3,
  ytick={0.5,1,1.5,2,2.5,3}, yticklabels={,1,,2,,3}]
\addplot[thinl, black] coordinates {(338.00,0.69)(338.08,0.60)(338.16,0.52)(338.24,0.50)(338.31,0.60)(338.39,0.95)(338.47,0.86)(338.55,0.90)(338.63,0.82)(338.70,0.92)(338.78,0.84)(338.86,0.88)(338.94,0.80)(339.02,0.86)(339.10,0.92)(339.18,0.84)(339.26,0.88)(339.34,0.78)(339.41,0.86)(339.48,0.80)(339.56,0.76)(339.64,0.84)(339.72,0.78)(339.80,0.86)(339.87,0.78)(339.95,0.74)(340.03,0.82)(340.10,0.88)(340.18,0.78)(340.26,0.84)(340.33,0.76)(340.41,0.86)(340.49,0.74)(340.57,0.80)(340.65,0.76)(340.73,0.84)(340.80,0.78)(340.88,0.74)(340.96,0.80)(341.04,0.76)(341.12,0.84)(341.20,0.98)(341.27,1.21)(341.35,1.00)(341.43,0.88)(341.51,0.84)(341.58,0.88)(341.66,0.80)(341.74,0.86)(341.82,0.80)(341.90,0.88)(341.97,0.78)(342.05,0.84)(342.13,0.76)(342.21,0.82)(342.29,0.78)(342.36,0.86)(342.44,0.80)(342.52,0.82)(342.60,0.78)(342.67,0.86)(342.75,1.05)(342.83,1.54)(342.91,1.08)(342.99,0.84)(343.07,0.76)(343.14,0.70)(343.22,0.74)(343.30,0.66)(343.38,0.62)(343.45,0.66)(343.53,0.59)(343.61,0.66)(343.69,0.72)(343.77,0.68)(343.84,0.80)(343.92,0.76)(344.00,0.84)(344.08,0.80)(344.16,0.90)(344.24,0.86)(344.31,0.94)(344.39,0.90)(344.47,0.97)(344.51,1.35)(344.55,1.49)(344.62,1.40)(344.70,1.25)(344.78,1.05)(344.86,0.97)(344.94,1.00)(345.01,0.98)(345.09,1.02)(345.17,1.00)(345.23,1.07)(345.27,2.62)(345.32,2.30)(345.37,2.10)(345.43,1.95)(345.50,1.60)(345.56,1.40)(345.64,1.10)(345.72,1.02)(345.80,0.96)(345.88,1.00)(345.95,0.96)(346.03,0.98)(346.11,0.94)(346.18,0.98)(346.26,0.92)(346.34,0.96)(346.42,0.90)(346.49,0.80)(346.57,0.72)(346.65,0.66)(346.73,0.70)(346.81,0.62)(346.88,0.68)(346.96,0.64)(347.04,0.70)(347.12,0.66)(347.20,0.72)(347.27,0.68)(347.35,0.76)(347.43,0.80)(347.51,0.78)(347.59,0.86)(347.66,0.82)(347.74,0.88)(347.82,0.86)(347.90,0.94)(347.98,1.02)(348.05,1.11)(348.13,1.05)(348.21,1.08)(348.29,0.96)(348.37,1.00)(348.44,0.90)(348.52,0.86)(348.60,0.80)(348.68,0.76)(348.76,0.74)(348.83,0.70)(348.91,0.74)(348.99,0.68)(349.07,0.72)(349.14,0.66)(349.22,0.74)(349.30,0.78)(349.38,0.72)(349.46,0.82)(349.53,0.78)(349.61,0.84)(349.69,0.80)(349.77,0.86)(349.85,0.82)(349.92,0.88)(350.00,0.84)(350.08,0.90)(350.16,0.96)(350.24,1.04)(350.31,1.12)(350.39,1.16)(350.47,1.08)(350.55,1.14)(350.63,1.06)(350.70,1.12)(350.78,1.16)(350.86,1.00)(350.94,0.88)(351.02,0.83)(351.09,0.90)(351.17,0.84)(351.25,0.88)(351.33,0.82)(351.41,0.88)(351.48,0.84)(351.56,0.90)(351.64,0.86)(351.71,0.88)(351.74,1.82)(351.78,1.60)(351.83,1.35)(351.88,1.15)(351.95,1.00)(352.03,1.07)(352.11,0.90)(352.18,0.84)(352.26,0.78)(352.34,0.86)(352.42,0.92)(352.50,0.86)(352.57,1.07)(352.65,0.92)(352.73,0.82)(352.81,0.78)(352.89,0.84)(352.96,0.76)(353.04,0.74)(353.12,0.80)(353.20,0.72)(353.28,0.66)(353.35,0.70)(353.43,0.62)(353.51,0.64)(353.59,0.60)(353.67,0.66)(353.74,0.62)(353.82,0.68)(353.90,0.60)(353.98,0.59)(354.06,0.72)(354.13,0.90)(354.21,1.00)(354.29,1.07)(354.37,0.96)(354.45,1.04)(354.52,1.20)(354.60,1.32)(354.68,1.40)(354.76,1.24)(354.84,1.10)(354.91,0.98)(354.99,0.92)(355.07,0.88)(355.15,0.94)(355.22,0.86)(355.30,0.90)(355.38,0.82)(355.46,0.78)(355.54,0.74)(355.61,0.82)(355.69,0.90)(355.77,0.86)(355.85,0.96)(355.93,1.04)(356.00,1.12)(356.08,1.25)(356.16,1.35)(356.24,1.18)(356.32,1.02)(356.39,0.92)(356.47,1.00)(356.55,0.94)(356.63,0.97)(356.71,1.10)(356.78,1.20)(356.86,1.02)(356.94,0.92)(357.02,0.88)(357.10,0.94)(357.17,0.90)(357.25,1.00)(357.33,1.10)(357.41,1.25)(357.49,1.12)(357.56,1.00)(357.64,0.92)(357.72,0.96)(357.80,0.88)(357.88,0.92)(357.95,0.86)(358.03,0.83)(358.11,0.88)(358.19,0.84)(358.27,0.90)(358.34,0.86)(358.42,0.92)(358.50,0.84)(358.58,0.90)(358.66,0.86)(358.73,0.92)(358.81,0.88)(358.89,0.96)(358.97,1.02)(359.05,1.12)(359.12,1.25)(359.20,1.08)(359.28,1.00)(359.36,0.92)(359.43,1.00)(359.51,0.96)(359.59,1.04)(359.67,0.94)(359.75,0.90)(359.82,0.98)(359.90,0.86)(359.98,0.92)(360.06,0.84)(360.14,0.90)(360.21,0.86)(360.29,0.92)(360.37,0.82)(360.45,0.78)(360.53,0.88)(360.60,0.82)(360.68,0.90)(360.76,0.80)(360.84,0.86)(360.92,0.76)(360.99,0.84)(361.07,0.92)(361.15,0.82)(361.23,0.88)(361.31,0.94)(361.38,1.10)(361.46,0.96)(361.54,0.88)(361.62,0.94)(361.69,0.84)(361.77,0.92)(361.85,1.00)(361.93,0.88)(362.00,0.92)};
\end{axis}

% ---------------- Panel 6: theta ----------------
\begin{axis}[panel={92.5pt}, height=53.5pt, ymin=-90, ymax=90,
  ytick={-90,0,90}, yticklabels={−90,0,90}]
\addplot[only marks, mark=*, mark size=1.1pt, black] coordinates {(338.08,34)(338.15,3)(338.23,-11)(338.31,-32)(338.39,0)(338.47,17)(338.54,-20)(338.62,46)(338.70,-6)(338.78,23)(338.86,9)(338.93,-23)(339.01,17)(339.09,29)(339.17,3)(339.29,-43)(339.40,11)(339.48,14)(339.56,23)(339.63,6)(339.71,32)(339.79,20)(339.87,46)(339.95,11)(340.07,-6)(340.10,-49)(340.18,-20)(340.26,-34)(340.38,32)(340.41,29)(340.49,14)(340.57,-11)(340.65,-3)(340.73,-20)(340.80,-37)(340.88,-6)(340.96,3)(341.04,20)(341.12,-14)(341.19,-40)(341.27,-23)(341.35,-52)(341.43,-6)(341.51,-11)(341.58,23)(341.66,46)(341.74,57)(341.82,40)(341.90,14)(341.97,60)(342.05,-3)(342.13,-20)(342.21,-6)(342.29,11)(342.36,23)(342.44,-17)(342.52,-26)(342.60,-29)(342.67,-34)(342.75,-46)(342.83,-11)(342.91,29)(342.99,46)(343.06,-20)(343.14,-6)(343.22,3)(343.30,-9)(343.38,-34)(343.45,11)(343.53,20)(343.61,3)(343.69,14)(343.77,29)(343.84,46)(343.92,40)(344.00,23)(344.08,-3)(344.16,11)(344.23,74)(344.31,3)(344.39,-6)(344.55,-46)(344.62,-40)(344.70,-63)(344.78,-49)(344.86,-52)(344.94,-40)(345.01,-46)(345.09,-29)(345.17,-34)(345.25,-26)(345.33,-46)(345.40,-23)(345.48,-37)(345.56,-32)(345.64,-34)(345.72,-32)(345.79,-23)(345.95,46)(346.03,60)(346.10,49)(346.18,60)(346.26,46)(346.34,40)(346.42,-3)(346.49,37)(346.57,29)(346.65,49)(346.73,-20)(346.81,20)(346.88,34)(346.96,49)(347.04,14)(347.12,6)(347.20,-11)(347.27,-40)(347.35,-32)(347.43,-23)(347.51,-17)(347.59,-11)(347.66,-20)(347.74,-6)(347.82,-14)(347.90,-3)(347.98,3)(348.05,-9)(348.13,34)(348.21,9)(348.29,11)(348.37,3)(348.44,17)(348.52,20)(348.60,29)(348.68,40)(348.76,32)(348.83,46)(348.91,26)(348.99,46)(349.07,37)(349.14,14)(349.22,3)(349.30,-9)(349.38,-26)(349.46,-20)(349.53,-34)(349.61,-11)(349.69,-23)(349.77,17)(349.85,-32)(349.92,-20)(350.00,-11)(350.08,-20)(350.16,9)(350.24,-11)(350.31,34)(350.39,60)(350.47,32)(350.55,66)(350.63,60)(350.70,34)(350.78,-37)(350.86,-17)(350.94,0)(351.02,-40)(351.09,-6)(351.17,-20)(351.25,40)(351.33,3)(351.41,-6)(351.48,9)(351.56,17)(351.64,-3)(351.72,-20)(351.80,-11)(351.87,3)(351.95,-29)(352.03,9)(352.11,-9)(352.18,-34)(352.26,0)(352.34,-11)(352.42,-46)(352.50,-34)(352.57,-52)(352.65,-23)(352.73,-69)(352.81,-57)(352.89,17)(352.96,-17)(353.04,40)(353.12,69)(353.20,-11)(353.28,9)(353.35,26)(353.43,-3)(353.51,17)(353.59,32)(353.67,9)(353.74,49)(353.82,20)(353.90,-11)(353.98,6)(354.06,23)(354.13,-6)(354.21,34)(354.29,17)(354.37,46)(354.45,54)(354.52,3)(354.60,23)(354.68,-11)(354.76,11)(354.84,-43)(354.91,-29)(354.99,-9)(355.07,17)(355.15,-20)(355.22,3)(355.30,-11)(355.38,-29)(355.46,-6)(355.54,-23)(355.61,3)(355.69,-32)(355.77,-11)(355.85,-20)(355.93,-9)(356.00,11)(356.08,6)(356.16,-49)(356.24,-17)(356.32,20)(356.39,-34)(356.47,-6)(356.55,23)(356.63,-3)(356.71,3)(356.78,-11)(356.86,-20)(356.94,-11)(357.02,29)(357.10,40)(357.17,34)(357.25,3)(357.33,29)(357.41,60)(357.49,49)(357.56,9)(357.64,6)(357.72,40)(357.80,52)(357.88,32)(357.95,-11)(358.03,17)(358.11,-23)(358.19,-43)(358.27,-3)(358.34,-11)(358.42,-34)(358.50,40)(358.58,29)(358.66,60)(358.73,14)(358.81,46)(358.89,34)(358.97,-20)(359.05,52)(359.12,-43)(359.20,43)(359.28,52)(359.36,26)(359.43,6)(359.51,23)(359.59,-11)(359.67,-17)(359.75,-29)(359.82,-20)(359.90,-34)(359.98,3)(360.06,-9)(360.14,-26)(360.21,-17)(360.29,-32)(360.37,-43)(360.45,-60)(360.53,17)(360.60,29)(360.68,-6)(360.76,34)(360.84,23)(360.92,46)(360.99,32)(361.07,57)(361.15,49)(361.23,29)(361.31,6)(361.38,20)(361.46,40)(361.54,54)(361.62,14)(361.69,-32)(361.77,6)(361.85,11)};
\end{axis}

% ---------------- Panel 7: phi ----------------
\begin{axis}[panel={39.5pt}, height=53pt, ymin=-180, ymax=180,
  ytick={-180,-90,0,90,180}, yticklabels={−180,,0,,},
  xticklabels={340,345,350,355,360},
  xticklabel style={font=\fontsize{12}{12}\selectfont, yshift=-3pt}]
\addplot[only marks, mark=*, mark size=1.1pt, black] coordinates {(338.00,134)(338.11,88)(338.23,82)(338.36,134)(338.47,77)(338.54,139)(338.15,-26)(338.31,-9)(338.39,19)(338.62,-55)(338.70,-15)(338.78,-49)(338.86,-95)(338.93,31)(339.01,-3)(339.09,65)(339.17,-55)(339.25,-55)(339.32,-66)(339.40,-72)(339.48,-83)(339.56,-95)(339.63,-118)(339.71,-49)(339.79,-32)(339.87,-26)(339.95,8)(340.02,-15)(340.10,19)(340.18,-49)(340.26,59)(340.34,25)(340.41,8)(340.49,31)(340.57,-78)(340.65,-55)(340.73,-21)(340.80,-3)(340.88,-38)(340.96,8)(341.04,19)(341.12,-15)(341.19,-26)(341.27,-9)(341.35,-55)(341.43,-26)(341.51,8)(341.58,-3)(341.66,42)(341.74,-38)(341.82,-55)(341.90,8)(341.97,-112)(342.05,-15)(342.13,-32)(342.21,-49)(342.29,19)(342.36,-3)(342.44,59)(342.52,8)(342.60,31)(342.67,-26)(342.75,-49)(342.83,65)(342.91,-15)(342.99,-55)(343.06,-32)(343.14,-3)(343.22,8)(343.30,-9)(343.38,31)(343.45,42)(343.53,-21)(343.61,2)(343.69,-32)(343.77,42)(343.84,-15)(343.92,-118)(344.00,8)(344.08,-38)(344.16,-3)(344.23,139)(344.31,42)(344.39,77)(344.47,8)(344.55,8)(344.62,-32)(344.70,-55)(344.78,-3)(344.86,-49)(344.94,2)(345.01,65)(345.09,-9)(345.17,31)(345.25,-26)(345.33,99)(345.40,65)(345.48,19)(345.56,-78)(345.64,-72)(345.72,-26)(345.79,2)(345.87,42)(345.95,-32)(346.03,8)(346.10,-43)(346.18,71)(346.26,65)(346.34,-61)(346.42,-95)(346.49,-89)(346.57,37)(346.65,19)(346.73,-3)(346.81,-26)(346.88,14)(346.96,-49)(347.04,19)(347.12,31)(347.20,31)(347.27,19)(347.35,31)(347.43,25)(347.51,-3)(347.59,19)(347.66,-26)(347.74,-83)(347.82,-66)(347.90,-55)(347.98,-21)(348.05,-3)(348.13,54)(348.21,94)(348.29,65)(348.37,31)(348.44,48)(348.52,88)(348.60,105)(348.68,-55)(348.76,-78)(348.83,8)(348.91,65)(348.99,31)(349.07,-55)(349.14,-21)(349.22,65)(349.30,77)(349.38,54)(349.46,99)(349.53,37)(349.61,48)(349.69,-32)(349.77,-43)(349.85,-49)(349.92,99)(350.00,111)(350.08,48)(350.16,-26)(350.24,-55)(350.31,-83)(350.39,-72)(350.47,-66)(350.55,-83)(350.63,-26)(350.70,59)(350.78,31)(350.86,19)(350.94,-55)(351.02,65)(351.09,-89)(351.17,-3)(351.25,-15)(351.33,-61)(351.41,-38)(351.48,-89)(351.56,-38)(351.64,-89)(351.72,-26)(351.80,-26)(351.87,-129)(351.95,-152)(352.03,2)(352.11,-21)(352.18,-3)(352.26,-55)(352.34,-38)(352.42,-66)(352.50,-49)(352.57,-61)(352.65,31)(352.73,134)(352.81,-66)(352.89,-152)(352.96,65)(353.04,54)(353.12,8)(353.20,14)(353.28,-3)(353.35,-15)(353.43,19)(353.51,31)(353.59,59)(353.67,77)(353.74,105)(353.82,157)(353.90,37)(353.98,2)(354.06,77)(354.13,19)(354.21,-152)(354.29,-3)(354.37,-15)(354.45,82)(354.52,19)(354.60,2)(354.68,-3)(354.76,-38)(354.84,-26)(354.91,14)(354.99,-89)(355.07,-3)(355.15,94)(355.22,77)(355.30,42)(355.38,-15)(355.46,-49)(355.54,25)(355.61,-3)(355.69,-61)(355.77,-43)(355.85,-72)(355.93,-78)(356.00,-61)(356.08,-49)(356.16,-89)(356.24,-55)(356.32,19)(356.39,-3)(356.47,59)(356.55,-32)(356.63,65)(356.71,-3)(356.78,77)(356.86,-66)(356.94,-89)(357.02,-61)(357.10,-49)(357.17,31)(357.25,-26)(357.33,-38)(357.41,-15)(357.49,-3)(357.56,-152)(357.64,-26)(357.72,-38)(357.80,99)(357.88,8)(357.95,-9)(358.03,-26)(358.11,-49)(358.19,-72)(358.27,25)(358.34,-21)(358.42,-66)(358.50,-55)(358.58,31)(358.66,-123)(358.73,-32)(358.81,-3)(358.89,54)(358.97,65)(359.05,8)(359.12,-26)(359.20,-49)(359.28,-95)(359.36,-3)(359.43,-26)(359.51,25)(359.59,25)(359.67,65)(359.75,42)(359.82,48)(359.90,31)(359.98,19)(360.06,-3)(360.14,-38)(360.21,-55)(360.29,-21)(360.37,71)(360.45,19)(360.53,-95)(360.60,-72)(360.68,-49)(360.76,-21)(360.84,-9)(360.92,-72)(360.99,-55)(361.07,-43)(361.15,-26)(361.23,-55)(361.31,-9)(361.38,-55)(361.46,157)(361.54,134)(361.62,-49)(361.69,-15)(361.77,-3)};
\end{axis}

% ---------------- annotations ----------------
\foreach \xx in {21.5,171,320,469} {\draw[line width=1.2pt] (\xx pt,665.5pt) -- (\xx pt,672.5pt);}
\begin{scope}[every node/.style={font=\fontsize{12.5}{13}\selectfont, inner sep=0pt}]
\node at (21.5pt,691.5pt) {−72.4};
\node at (21.5pt,680pt) {2.80};
\node at (171pt,691.5pt) {−73.7};
\node at (171pt,680pt) {2.75};
\node at (320pt,691.5pt) {−74.9};
\node at (320pt,680pt) {2.70};
\node at (469pt,691.5pt) {−76.0};
\node at (469pt,680pt) {2.65};
\node[anchor=west] at (488pt,691.5pt) {=HLAT [°]};
\node[anchor=west] at (488pt,680pt) {=R [AU]};
\end{scope}
\begin{scope}[every node/.style={font=\fontsize{7}{7}\selectfont, inner sep=0pt, text=black!70}]
\node at (142.3pt,670pt) {F};
\node at (156.3pt,670pt) {F};
\node at (277.3pt,670pt) {F};
\end{scope}
\begin{scope}[every node/.style={font=\fontsize{10.5}{11}\selectfont, anchor=west, inner sep=0pt}]
\node[text=cred] at (338.5pt,655pt) {77−127 keV};
\node[text=cgreen] at (338.5pt,644.5pt) {207−336 keV};
\node[text=cblue] at (338.5pt,634.5pt) {601−1123 keV};
\node[text=cmag] at (338.5pt,625pt) {1.8−3.8 MeV};
\node[text=cpur] at (338.5pt,615pt) {3.8−8.0\hspace{8pt} MeV};
\node[text=cpink] at (338.5pt,602pt) {8.0−19.0 MeV};
\end{scope}
\begin{scope}[every node/.style={font=\fontsize{11.5}{12}\selectfont, anchor=west, inner sep=0pt}]
\node[text=cred] at (376pt,324.5pt) {35−53 keV};
\node[text=cblue] at (376pt,312.5pt) {175−315 keV};
\end{scope}
\node[anchor=west, inner sep=0pt, font=\fontsize{15.5}{16}\selectfont] at (289pt,398pt) {>50 MeV ions};
\begin{scope}[every node/.style={font=\fontsize{13.5}{14}\selectfont, rotate=90, inner sep=0pt}]
\node at (514pt,556.5pt) {p/cm\textsuperscript{2}/s/sr/MeV};
\node at (514pt,390pt) {counts/s};
\node at (514pt,305.5pt) {e/cm\textsuperscript{2}/s/sr/MeV};
\node at (514pt,227.5pt) {V [km/s]};
\node at (514pt,172.5pt) {B [nT]};
\node at (514pt,119pt) {{\itshape θ} (deg)};
\node at (514pt,66.5pt) {{\itshape φ} (deg)};
\end{scope}
\begin{scope}[every node/.style={font=\fontsize{12}{12}\selectfont, inner sep=0pt}]
\node at (245.5pt,16.5pt) {2006};
\node at (52.5pt,17.5pt) {HLONG=W120°};
\node at (47.5pt,6.5pt) {HLAT=−72.4°};
\node at (428pt,17.5pt) {HLONG=W107°};
\node at (431pt,6.5pt) {HLAT=−76.0°};
\end{scope}
\end{tikzpicture}
\end{document}
